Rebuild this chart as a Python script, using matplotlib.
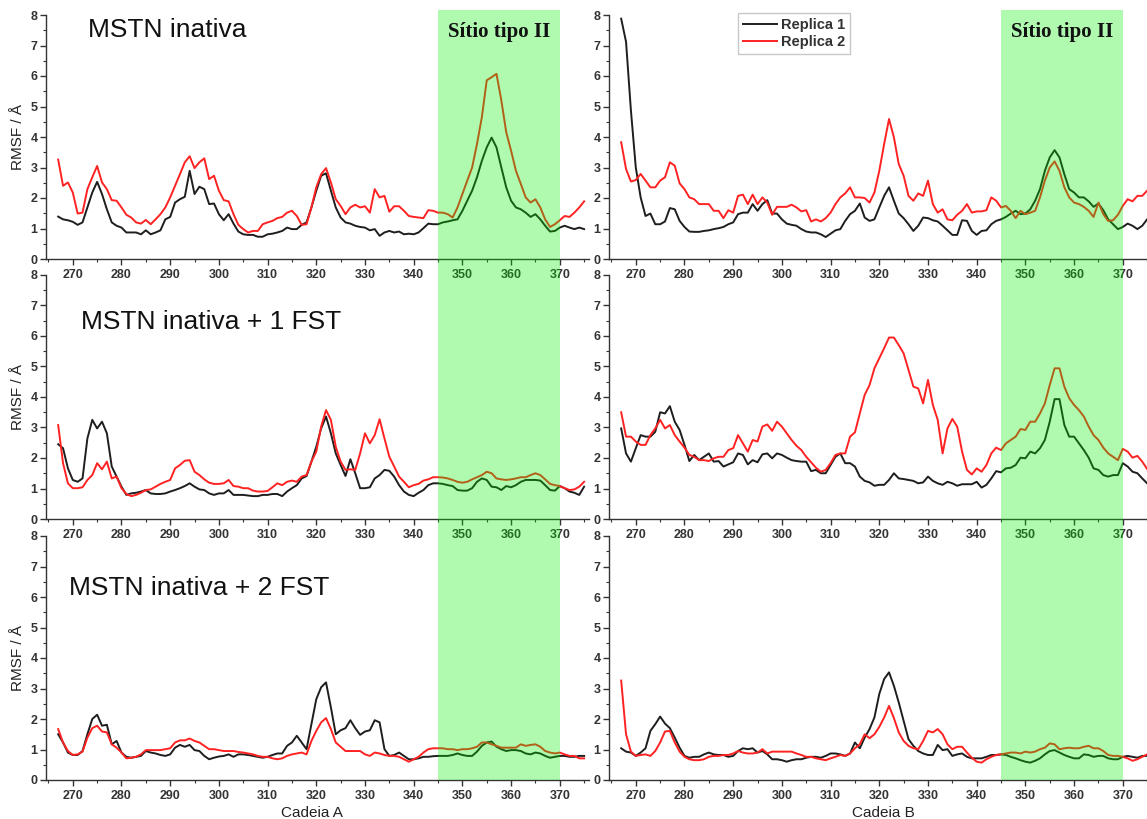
import numpy as np
import matplotlib
matplotlib.use("Agg")
import matplotlib.pyplot as plt
import matplotlib.transforms as mtransforms
from matplotlib.patches import Rectangle
from matplotlib.ticker import MultipleLocator

plt.rcParams['font.family'] = ['Liberation Sans', 'DejaVu Sans']

# residue numbering (same for both chains)
residues = np.arange(267, 376)

# RMSF (Angstrom) per residue, chain A / chain B, replica 1 and 2
a_inativa_r1 = [
    1.39, 1.30, 1.27, 1.22, 1.12, 1.20, 1.69, 2.18, 2.53, 2.13,
    1.63, 1.20, 1.09, 1.03, 0.87, 0.87, 0.87, 0.81, 0.94, 0.81,
    0.87, 0.94, 1.30, 1.38, 1.85, 1.96, 2.04, 2.89, 2.13, 2.37,
    2.29, 1.80, 1.82, 1.47, 1.27, 1.47, 1.16, 0.90, 0.81, 0.79,
    0.79, 0.73, 0.73, 0.81, 0.83, 0.87, 0.92, 1.03, 0.98, 0.98,
    1.12, 1.20, 1.69, 2.24, 2.73, 2.81, 2.24, 1.69, 1.36, 1.20,
    1.16, 1.09, 1.05, 1.03, 0.94, 0.98, 0.76, 0.87, 0.92, 0.87,
    0.90, 0.81, 0.83, 0.81, 0.87, 1.01, 1.16, 1.14, 1.14, 1.20,
    1.23, 1.27, 1.30, 1.58, 1.91, 2.24, 2.68, 3.22, 3.66, 3.98,
    3.66, 3.00, 2.35, 1.91, 1.69, 1.63, 1.52, 1.38, 1.47, 1.30,
    1.09, 0.90, 0.92, 1.03, 1.09, 1.03, 0.98, 1.03, 0.98]
a_inativa_r2 = [
    3.26, 2.40, 2.51, 2.18, 1.49, 1.52, 2.29, 2.68, 3.05, 2.51,
    2.29, 1.93, 1.91, 1.69, 1.45, 1.36, 1.20, 1.16, 1.28, 1.14,
    1.30, 1.47, 1.69, 2.02, 2.40, 2.78, 3.17, 3.37, 2.98, 3.17,
    3.30, 2.62, 2.73, 2.24, 1.93, 1.89, 1.47, 1.12, 0.98, 0.87,
    0.92, 0.92, 1.14, 1.20, 1.25, 1.34, 1.38, 1.52, 1.58, 1.41,
    1.12, 1.14, 1.69, 2.35, 2.78, 2.98, 2.51, 1.96, 1.74, 1.47,
    1.69, 1.78, 1.69, 1.73, 1.52, 2.29, 2.02, 2.07, 1.55, 1.73,
    1.73, 1.58, 1.41, 1.38, 1.36, 1.34, 1.60, 1.58, 1.52, 1.52,
    1.47, 1.36, 1.69, 2.13, 2.57, 3.00, 3.77, 4.65, 5.86, 5.96,
    6.07, 5.20, 4.16, 3.55, 2.89, 2.46, 2.02, 1.85, 1.96, 1.69,
    1.30, 1.05, 1.14, 1.27, 1.41, 1.38, 1.52, 1.69, 1.89]
b_inativa_r1 = [
    7.88, 7.12, 4.87, 3.00, 2.02, 1.41, 1.49, 1.14, 1.14, 1.23,
    1.67, 1.63, 1.25, 1.05, 0.90, 0.89, 0.89, 0.92, 0.94, 0.98,
    1.01, 1.05, 1.14, 1.20, 1.47, 1.52, 1.52, 1.80, 1.58, 1.80,
    1.93, 1.49, 1.49, 1.30, 1.16, 1.12, 1.09, 0.98, 0.90, 0.87,
    0.87, 0.81, 0.72, 0.83, 0.94, 0.98, 1.25, 1.47, 1.58, 1.82,
    1.36, 1.25, 1.30, 1.69, 2.07, 2.35, 1.91, 1.49, 1.34, 1.14,
    0.92, 1.09, 1.36, 1.34, 1.27, 1.23, 1.09, 0.94, 0.79, 0.79,
    1.27, 1.25, 0.92, 0.79, 0.92, 0.94, 1.14, 1.25, 1.30, 1.38,
    1.49, 1.58, 1.47, 1.49, 1.63, 1.91, 2.29, 2.89, 3.33, 3.57,
    3.33, 2.78, 2.29, 2.18, 2.02, 2.02, 1.89, 1.71, 1.82, 1.60,
    1.30, 1.14, 0.98, 1.05, 1.16, 1.09, 0.98, 1.09, 1.30]
b_inativa_r2 = [
    3.83, 2.95, 2.54, 2.59, 2.79, 2.57, 2.35, 2.35, 2.57, 2.68,
    3.17, 3.06, 2.48, 2.29, 2.02, 1.96, 1.80, 1.80, 1.80, 1.58,
    1.58, 1.34, 1.60, 1.52, 2.07, 2.11, 1.80, 2.11, 1.80, 2.02,
    1.85, 1.45, 1.71, 1.71, 1.71, 1.78, 1.69, 1.56, 1.60, 1.23,
    1.30, 1.23, 1.34, 1.52, 1.80, 2.02, 2.15, 2.35, 2.02, 2.02,
    2.00, 1.85, 2.18, 2.89, 3.77, 4.59, 3.99, 3.11, 2.73, 2.07,
    1.91, 2.15, 2.07, 2.57, 1.80, 1.52, 1.63, 1.30, 1.27, 1.45,
    1.58, 1.80, 1.52, 1.56, 1.56, 1.60, 2.02, 1.91, 1.69, 1.74,
    1.58, 1.34, 1.58, 1.47, 1.52, 1.58, 2.02, 2.57, 3.00, 3.20,
    2.89, 2.35, 2.02, 1.85, 1.80, 1.71, 1.58, 1.38, 1.85, 1.47,
    1.25, 1.27, 1.45, 1.74, 1.96, 1.89, 2.07, 2.07, 2.24]

a_1fst_r1 = [
    2.45, 2.32, 1.66, 1.28, 1.22, 1.33, 2.64, 3.25, 2.97, 3.19,
    2.81, 1.72, 1.39, 1.06, 0.79, 0.84, 0.86, 0.90, 0.95, 0.84,
    0.82, 0.82, 0.84, 0.90, 0.95, 1.01, 1.08, 1.17, 1.06, 0.97,
    0.95, 0.84, 0.79, 0.84, 0.84, 0.95, 0.79, 0.79, 0.79, 0.77,
    0.75, 0.75, 0.79, 0.79, 0.82, 0.82, 0.75, 0.90, 1.01, 1.11,
    1.33, 1.41, 1.88, 2.37, 2.97, 3.36, 2.81, 2.15, 1.77, 1.41,
    1.96, 1.50, 1.01, 1.01, 1.04, 1.33, 1.44, 1.61, 1.58, 1.39,
    1.11, 0.90, 0.79, 0.75, 0.86, 0.95, 1.11, 1.17, 1.17, 1.15,
    1.11, 1.08, 0.95, 0.93, 0.93, 1.01, 1.22, 1.33, 1.28, 1.06,
    1.04, 0.95, 1.08, 1.04, 1.11, 1.22, 1.28, 1.28, 1.28, 1.26,
    1.11, 0.95, 0.93, 1.08, 1.01, 0.90, 0.86, 0.79, 1.06]
a_1fst_r2 = [
    3.08, 1.83, 1.17, 1.01, 1.01, 1.04, 1.28, 1.44, 1.83, 1.63,
    1.88, 1.33, 1.39, 1.01, 0.82, 0.75, 0.79, 0.86, 0.95, 0.97,
    1.06, 1.15, 1.22, 1.28, 1.66, 1.77, 1.91, 1.93, 1.55, 1.44,
    1.30, 1.19, 1.15, 1.15, 1.17, 1.28, 1.08, 1.06, 1.01, 1.01,
    0.93, 0.90, 0.90, 0.92, 1.04, 1.17, 1.11, 1.22, 1.26, 1.22,
    1.39, 1.44, 1.88, 2.21, 3.03, 3.57, 3.25, 2.37, 1.88, 1.61,
    1.63, 1.61, 2.15, 2.81, 2.48, 2.75, 3.27, 2.64, 2.04, 1.72,
    1.39, 1.22, 1.04, 1.11, 1.15, 1.26, 1.30, 1.37, 1.37, 1.36,
    1.33, 1.28, 1.22, 1.19, 1.22, 1.30, 1.37, 1.44, 1.55, 1.50,
    1.33, 1.30, 1.28, 1.30, 1.33, 1.37, 1.37, 1.44, 1.50, 1.44,
    1.30, 1.15, 1.11, 1.08, 1.01, 0.95, 0.97, 1.06, 1.22]
b_1fst_r1 = [
    2.97, 2.15, 1.88, 2.32, 2.75, 2.70, 2.70, 2.86, 3.50, 3.46,
    3.70, 3.19, 2.92, 2.43, 1.90, 2.10, 1.93, 2.04, 2.15, 1.88,
    1.90, 1.72, 1.79, 1.86, 2.15, 2.10, 1.79, 1.93, 1.86, 2.12,
    2.15, 1.99, 2.15, 2.10, 2.01, 1.93, 1.90, 1.88, 1.88, 1.57,
    1.61, 1.50, 1.50, 1.77, 2.04, 2.15, 1.83, 1.83, 1.72, 1.39,
    1.25, 1.20, 1.09, 1.12, 1.12, 1.28, 1.50, 1.33, 1.31, 1.28,
    1.25, 1.17, 1.20, 1.39, 1.25, 1.17, 1.12, 1.22, 1.17, 1.09,
    1.14, 1.14, 1.14, 1.22, 1.03, 1.12, 1.33, 1.57, 1.53, 1.66,
    1.68, 1.77, 2.01, 1.99, 2.21, 2.15, 2.32, 2.59, 3.19, 3.93,
    3.93, 3.08, 2.70, 2.70, 2.48, 2.26, 2.01, 1.66, 1.61, 1.44,
    1.39, 1.44, 1.44, 1.83, 1.72, 1.55, 1.50, 1.33, 1.17]
b_1fst_r2 = [
    3.50, 2.70, 2.70, 2.54, 2.43, 2.43, 2.75, 2.97, 3.25, 2.97,
    3.08, 2.75, 2.54, 2.34, 2.10, 2.04, 1.93, 1.93, 1.90, 1.99,
    2.04, 2.04, 2.26, 2.32, 2.75, 2.48, 2.21, 2.59, 2.54, 3.03,
    3.10, 2.89, 3.19, 3.03, 2.81, 2.59, 2.40, 2.26, 2.04, 1.86,
    1.68, 1.55, 1.61, 1.83, 2.10, 2.15, 2.15, 2.70, 2.84, 3.46,
    4.07, 4.39, 4.94, 5.27, 5.60, 5.95, 5.95, 5.70, 5.43, 4.89,
    4.34, 4.28, 3.79, 4.56, 3.74, 3.25, 2.15, 2.97, 3.28, 3.03,
    2.21, 1.61, 1.46, 1.66, 1.55, 1.77, 2.15, 2.34, 2.26, 2.48,
    2.59, 2.70, 2.95, 2.92, 3.19, 3.19, 3.46, 3.79, 4.39, 4.94,
    4.94, 4.34, 3.96, 3.74, 3.57, 3.36, 3.03, 2.75, 2.59, 2.34,
    2.15, 2.04, 1.93, 2.30, 2.21, 2.01, 2.07, 1.88, 1.64]

a_2fst_r1 = [
    1.50, 1.23, 0.90, 0.82, 0.82, 0.95, 1.50, 2.00, 2.14, 1.78,
    1.81, 1.17, 1.28, 0.90, 0.76, 0.73, 0.76, 0.79, 0.95, 0.90,
    0.87, 0.82, 0.79, 0.84, 1.06, 1.15, 1.09, 1.15, 0.98, 0.95,
    0.79, 0.68, 0.73, 0.77, 0.79, 0.84, 0.76, 0.84, 0.84, 0.82,
    0.79, 0.76, 0.73, 0.76, 0.82, 0.87, 0.87, 1.12, 1.23, 1.45,
    1.23, 1.01, 1.83, 2.65, 3.04, 3.20, 2.38, 1.50, 1.63, 1.70,
    1.96, 1.70, 1.48, 1.59, 1.63, 1.96, 1.89, 1.01, 0.79, 0.82,
    0.90, 0.79, 0.68, 0.68, 0.71, 0.76, 0.76, 0.78, 0.79, 0.79,
    0.79, 0.82, 0.87, 0.82, 0.79, 0.79, 0.93, 1.12, 1.23, 1.26,
    1.09, 1.01, 0.95, 0.98, 0.98, 0.95, 0.87, 0.84, 0.90, 0.87,
    0.79, 0.73, 0.76, 0.79, 0.79, 0.76, 0.76, 0.79, 0.79]
a_2fst_r2 = [
    1.67, 1.23, 0.95, 0.82, 0.84, 0.93, 1.39, 1.70, 1.78, 1.59,
    1.56, 1.17, 1.06, 0.90, 0.71, 0.73, 0.76, 0.84, 0.98, 0.98,
    0.98, 0.98, 1.01, 1.04, 1.23, 1.30, 1.30, 1.36, 1.28, 1.23,
    1.12, 1.01, 1.01, 0.98, 0.95, 0.95, 0.95, 0.92, 0.90, 0.87,
    0.84, 0.79, 0.76, 0.76, 0.71, 0.68, 0.71, 0.79, 0.84, 0.87,
    0.90, 0.84, 1.28, 1.61, 1.89, 2.03, 1.67, 1.23, 1.09, 0.95,
    0.95, 0.95, 0.95, 0.84, 0.79, 0.90, 0.87, 0.82, 0.79, 0.79,
    0.76, 0.68, 0.60, 0.68, 0.76, 0.90, 1.01, 1.04, 1.04, 1.04,
    1.01, 1.01, 0.98, 1.01, 1.01, 1.04, 1.09, 1.23, 1.23, 1.17,
    1.12, 1.06, 1.06, 1.06, 1.06, 1.17, 1.12, 1.15, 1.17, 1.09,
    0.95, 0.90, 0.87, 0.90, 0.84, 0.79, 0.79, 0.71, 0.71]
b_2fst_r1 = [
    1.04, 0.93, 0.90, 0.79, 0.90, 1.04, 1.61, 1.83, 2.08, 1.85,
    1.70, 1.39, 1.06, 0.79, 0.73, 0.76, 0.76, 0.84, 0.90, 0.84,
    0.82, 0.82, 0.76, 0.79, 0.95, 1.04, 1.01, 1.04, 0.90, 0.95,
    0.84, 0.68, 0.68, 0.65, 0.60, 0.65, 0.68, 0.68, 0.73, 0.76,
    0.76, 0.73, 0.79, 0.87, 0.87, 0.84, 0.79, 0.87, 1.23, 1.04,
    1.39, 1.67, 2.05, 2.82, 3.31, 3.53, 3.09, 2.54, 1.94, 1.34,
    1.12, 0.95, 0.87, 0.82, 0.82, 1.15, 0.98, 1.01, 0.79, 0.84,
    0.87, 0.76, 0.71, 0.71, 0.71, 0.76, 0.82, 0.82, 0.84, 0.82,
    0.76, 0.71, 0.65, 0.60, 0.57, 0.63, 0.71, 0.84, 0.95, 0.98,
    0.90, 0.82, 0.76, 0.71, 0.71, 0.84, 0.82, 0.76, 0.79, 0.79,
    0.71, 0.68, 0.68, 0.76, 0.79, 0.76, 0.73, 0.79, 0.79]
b_2fst_r2 = [
    3.26, 1.50, 0.93, 0.79, 0.82, 0.84, 0.79, 0.95, 1.23, 1.59,
    1.61, 1.23, 0.93, 0.76, 0.68, 0.65, 0.65, 0.68, 0.76, 0.79,
    0.79, 0.82, 0.82, 0.87, 0.95, 0.90, 0.87, 0.87, 0.90, 1.01,
    0.87, 0.93, 0.93, 0.93, 0.93, 0.93, 0.87, 0.82, 0.76, 0.76,
    0.71, 0.68, 0.65, 0.71, 0.76, 0.82, 0.79, 0.87, 1.04, 1.17,
    1.50, 1.37, 1.50, 1.74, 2.05, 2.43, 2.03, 1.56, 1.28, 1.12,
    1.04, 1.01, 1.28, 1.61, 1.56, 1.67, 1.50, 1.17, 1.01, 1.09,
    1.09, 0.90, 0.73, 0.60, 0.57, 0.68, 0.76, 0.82, 0.84, 0.87,
    0.90, 0.90, 0.87, 0.93, 0.90, 0.93, 1.01, 1.06, 1.20, 1.17,
    1.01, 1.04, 1.06, 1.04, 1.04, 1.09, 1.12, 1.04, 1.04, 0.95,
    0.82, 0.79, 0.79, 0.76, 0.71, 0.63, 0.68, 0.76, 0.84]

system_titles = ["MSTN inativa", "MSTN inativa + 1 FST", "MSTN inativa + 2 FST"]
chain_labels = ["Cadeia A", "Cadeia B"]
series_labels = ["Replica 1", "Replica 2"]
site_label = "Sítio tipo II"
site_range = (345, 370)

grid = [
    [(a_inativa_r1, a_inativa_r2), (b_inativa_r1, b_inativa_r2)],
    [(a_1fst_r1, a_1fst_r2), (b_1fst_r1, b_1fst_r2)],
    [(a_2fst_r1, a_2fst_r2), (b_2fst_r1, b_2fst_r2)],
]

W, H = 1147, 819
fig = plt.figure(figsize=(W / 100, H / 100), dpi=100)


def add_axes_px(left, top, width, height):
    return fig.add_axes([left / W, 1 - (top + height) / H, width / W, height / H])


col_left = [46, 609]
row_top = [15, 275, 536]
ax_w, ax_h = 543, 244
title_pos = [(273.2, 7.5), (271.6, 6.45), (269.3, 6.3)]

axes = [[None, None] for _ in range(3)]
for i in range(3):
    for j in range(2):
        ax = add_axes_px(col_left[j], row_top[i], ax_w, ax_h)
        axes[i][j] = ax
        r1, r2 = grid[i][j]
        ax.plot(residues, r1, color='#1e1e1e', lw=1.4, label=series_labels[0])
        ax.plot(residues, r2, color='#ff2222', lw=1.4, label=series_labels[1])
        ax.set_xlim(264.5, 376)
        ax.set_ylim(0, 8)
        ax.patch.set_alpha(0)
        for side in ('top', 'right'):
            ax.spines[side].set_visible(False)
        for side in ('left', 'bottom'):
            ax.spines[side].set_color('#333333')
            ax.spines[side].set_linewidth(1.0)
        ax.xaxis.set_major_locator(MultipleLocator(10))
        ax.xaxis.set_minor_locator(MultipleLocator(5))
        ax.yaxis.set_major_locator(MultipleLocator(1))
        ax.yaxis.set_minor_locator(MultipleLocator(0.5))
        ax.tick_params(which='major', direction='out', length=4.5, width=1.0,
                       color='#333333', labelcolor='#333333', labelsize=9)
        ax.tick_params(which='minor', direction='out', length=2.5, width=0.8,
                       color='#333333')
        ax.tick_params(axis='y', pad=1.5)
        ax.tick_params(axis='x', pad=3)
        for lbl in ax.get_xticklabels() + ax.get_yticklabels():
            lbl.set_fontweight('bold')
        if j == 0:
            ax.set_ylabel('RMSF / Å', fontsize=11, color='#222222')
            ax.yaxis.set_label_coords(-0.038, 0.5)
            tx, ty = title_pos[i]
            ax.text(tx, ty, system_titles[i], fontsize=19, ha='left',
                    va='center', color='#111111')
        if i == 2:
            ax.set_xlabel(chain_labels[j], fontsize=11, color='#222222')
            ax.xaxis.set_label_coords(0.49 if j == 0 else 0.505, -0.105)

# legend in the upper right panel
leg = axes[0][1].legend(loc='upper left',
                        bbox_to_anchor=((738 - 609) / ax_w, (259 - 13) / ax_h),
                        borderaxespad=0, frameon=True, fancybox=False,
                        edgecolor='#c8c8c8', framealpha=1,
                        prop={'size': 10.5, 'weight': 'bold'},
                        handlelength=2.3, handletextpad=0.3, borderpad=0.35,
                        labelspacing=0.2)
for t in leg.get_texts():
    t.set_color('#333333')

# highlighted binding site, spanning all three rows of each column
y0 = (H - 780) / H
y1 = (H - 10) / H
for j in range(2):
    ax_top = axes[0][j]
    trans = mtransforms.blended_transform_factory(ax_top.transData, fig.transFigure)
    band = Rectangle((site_range[0], y0), site_range[1] - site_range[0], y1 - y0,
                     transform=trans, facecolor='#00f000', alpha=0.31,
                     edgecolor='none', zorder=5)
    fig.add_artist(band)
    fig.text(sum(site_range) / 2, 7.45, site_label, transform=ax_top.transData,
             ha='center', va='center', fontsize=15, fontweight='bold',
             family=['Liberation Serif', 'DejaVu Serif'], color='#111111',
             zorder=6)

fig.savefig('out.png', dpi=100)
